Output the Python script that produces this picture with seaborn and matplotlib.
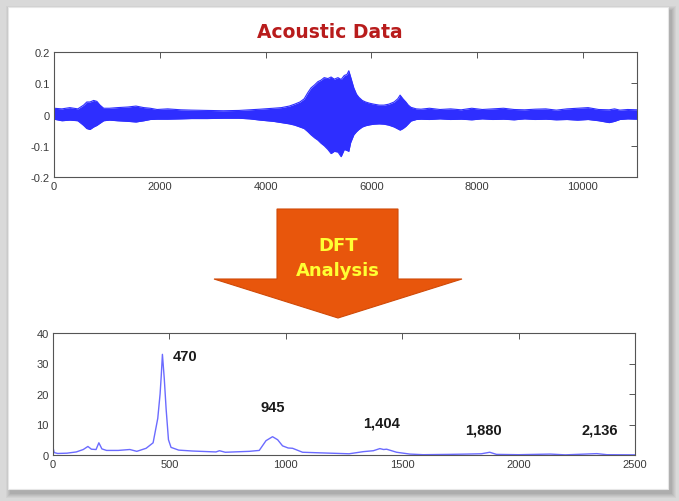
import numpy as np
import pandas as pd
import seaborn as sns
import matplotlib
matplotlib.use("Agg")
import matplotlib.pyplot as plt
from matplotlib.patches import Rectangle, Polygon

# ---------------- data ----------------
wave_x = [0, 150, 300, 450, 560, 620, 680, 750, 810, 870, 940, 1050, 1200, 1400, 1550, 1700,
          1820, 1950, 2150, 2400, 2600, 2900, 3200, 3500, 3700, 3900, 4150, 4300, 4450, 4550,
          4650, 4730, 4800, 4860, 4930, 4990, 5050, 5110, 5180, 5240, 5300, 5370, 5430, 5490,
          5540, 5575, 5610, 5670, 5720, 5765, 5830, 5892, 5970, 6050, 6150, 6240, 6330, 6432,
          6500, 6545, 6600, 6654, 6700, 6750, 6850, 6940, 7100, 7300, 7500, 7700, 7900, 8100,
          8300, 8500, 8700, 8900, 9100, 9300, 9500, 9700, 9900, 10100, 10300, 10500, 10600,
          10700, 10850, 11025]
wave_upper = [0.02, 0.018, 0.022, 0.018, 0.03, 0.04, 0.04, 0.045, 0.042, 0.03, 0.02, 0.02, 0.022,
              0.024, 0.027, 0.022, 0.02, 0.016, 0.018, 0.015, 0.014, 0.013, 0.012, 0.013, 0.015,
              0.017, 0.02, 0.022, 0.027, 0.033, 0.04, 0.05, 0.07, 0.085, 0.095, 0.105, 0.11,
              0.118, 0.115, 0.12, 0.113, 0.118, 0.112, 0.125, 0.128, 0.14, 0.12, 0.085, 0.065,
              0.055, 0.045, 0.04, 0.036, 0.033, 0.03, 0.03, 0.033, 0.04, 0.05, 0.062, 0.05, 0.04,
              0.03, 0.023, 0.018, 0.017, 0.02, 0.016, 0.018, 0.015, 0.02, 0.016, 0.018, 0.02,
              0.016, 0.015, 0.017, 0.018, 0.014, 0.018, 0.02, 0.022, 0.016, 0.015, 0.018, 0.014,
              0.016, 0.015]
wave_lower = [-0.015, -0.02, -0.018, -0.02, -0.035, -0.045, -0.048, -0.04, -0.035, -0.028, -0.02,
              -0.018, -0.02, -0.022, -0.024, -0.02, -0.016, -0.015, -0.015, -0.014, -0.013,
              -0.013, -0.012, -0.012, -0.014, -0.018, -0.022, -0.026, -0.03, -0.034, -0.04,
              -0.045, -0.055, -0.065, -0.075, -0.082, -0.092, -0.1, -0.112, -0.125, -0.118,
              -0.12, -0.135, -0.112, -0.115, -0.118, -0.09, -0.065, -0.055, -0.048, -0.04,
              -0.036, -0.033, -0.031, -0.03, -0.031, -0.034, -0.04, -0.046, -0.05, -0.045,
              -0.038, -0.03, -0.021, -0.016, -0.015, -0.016, -0.014, -0.016, -0.015, -0.017,
              -0.014, -0.016, -0.015, -0.017, -0.014, -0.016, -0.015, -0.017, -0.016, -0.018,
              -0.016, -0.02, -0.026, -0.022, -0.016, -0.014, -0.015]

freq = [0, 5, 20, 60, 100, 130, 150, 165, 185, 197, 210, 230, 280, 330, 360, 400, 430, 450, 460,
        465, 470, 478, 486, 496, 507, 540, 600, 700, 715, 740, 843, 886, 915, 943, 965, 986,
        1010, 1029, 1072, 1150, 1272, 1333, 1376, 1404, 1420, 1433, 1476, 1533, 1590, 1700,
        1776, 1840, 1876, 1905, 2000, 2136, 2200, 2336, 2379, 2500]
mag = [2.5, 0.8, 0.5, 0.6, 1.0, 1.8, 2.8, 1.9, 1.8, 4.0, 2.0, 1.5, 1.5, 1.8, 1.2, 2.2, 4.0, 12.0,
       20, 26, 33, 25, 15, 5, 2.5, 1.6, 1.3, 1.0, 1.4, 0.9, 1.2, 1.5, 4.7, 6.0, 5.0, 3.0, 2.3,
       2.2, 0.9, 0.7, 0.4, 1.1, 1.4, 2.1, 1.8, 1.9, 0.9, 0.3, 0.1, 0.2, 0.3, 0.4, 0.9, 0.2, 0.1,
       0.3, 0.05, 0.45, 0.1, 0.05]

peak_labels = ["470", "945", "1,404", "1,880", "2,136"]
peak_label_x = [566, 943, 1410, 1847, 2350]
peak_label_y = [32.5, 15.6, 10.7, 8.5, 8.5]

top_xticks = [0, 2000, 4000, 6000, 8000, 10000]
top_yticks = [-0.2, -0.1, 0, 0.1, 0.2]
top_yticklabels = ["-0.2", "-0.1", "0", "0.1", "0.2"]
bot_xticks = [0, 500, 1000, 1500, 2000, 2500]
bot_yticks = [0, 10, 20, 30, 40]

title_text = "Acoustic Data"
arrow_text = ["DFT", "Analysis"]

# ---------------- figure ----------------
sns.set_theme(style="white")
plt.rcParams['font.family'] = ['Liberation Sans', 'DejaVu Sans']

W, H = 679, 502
fig = plt.figure(figsize=(W / 100, H / 100), dpi=100)
fig.patch.set_facecolor("#d9d9d9")


def px_rect(x0, y0, x1, y1, **kw):
    return Rectangle((x0 / W, 1 - y1 / H), (x1 - x0) / W, (y1 - y0) / H,
                     transform=fig.transFigure, **kw)


# shadow of the panel
for i, a in enumerate([0.06, 0.06, 0.07, 0.08, 0.1]):
    d = 5 - i
    fig.add_artist(px_rect(8 - d + 3, 8 - d + 4, 668 + d + 3, 490 + d + 4,
                           facecolor="#555555", alpha=a, edgecolor="none", zorder=-3))
fig.add_artist(px_rect(8, 8, 668, 490, facecolor="white", edgecolor="#e6e6e6",
                       linewidth=0.8, zorder=-2))


def style_axes(ax):
    for s in ax.spines.values():
        s.set_color("#555555")
        s.set_linewidth(0.8)
        s.set_visible(True)
    ax.tick_params(direction="in", length=4, width=0.7, color="#555555",
                   top=True, right=True, labelsize=8, labelcolor="#3a3a3a", pad=3)
    ax.set_xlabel("")
    ax.set_ylabel("")
    ax.set_facecolor("white")


# top axes: waveform
ax1 = fig.add_axes([54 / W, 1 - 178 / H, (637 - 54) / W, (178 - 53) / H])
ax1.fill_between(wave_x, wave_lower, wave_upper, color="#2e2eff", linewidth=0)
sns.lineplot(x=wave_x, y=wave_upper, ax=ax1, color="#2e2eff", linewidth=0.8)
sns.lineplot(x=wave_x, y=wave_lower, ax=ax1, color="#2e2eff", linewidth=0.8)
ax1.set_xlim(0, 11025)
ax1.set_ylim(-0.2, 0.2)
ax1.set_xticks(top_xticks)
ax1.set_xticklabels([str(t) for t in top_xticks])
ax1.set_yticks(top_yticks)
ax1.set_yticklabels(top_yticklabels)
style_axes(ax1)

# bottom axes: spectrum
ax2 = fig.add_axes([53 / W, 1 - 456 / H, (635 - 53) / W, (456 - 334) / H])
sns.lineplot(x=freq, y=mag, ax=ax2, color="#6b6bff", linewidth=1.0)
ax2.set_xlim(0, 2500)
ax2.set_ylim(0, 40)
ax2.set_xticks(bot_xticks)
ax2.set_xticklabels([str(t) for t in bot_xticks])
ax2.set_yticks(bot_yticks)
ax2.set_yticklabels([str(t) for t in bot_yticks])
style_axes(ax2)
for lab, lx, ly in zip(peak_labels, peak_label_x, peak_label_y):
    ax2.text(lx, ly, lab, ha="center", va="center", fontsize=10.5, fontweight="bold",
             color="#1a1a1a")

# title
fig.text(330 / W, 1 - 33 / H, title_text, ha="center", va="center", fontsize=13.5,
         fontweight="bold", color="#b81c1c", family=["DejaVu Sans"])

# arrow
pts = [(277, 210), (398, 210), (398, 280), (462, 280), (338, 319), (214, 280), (277, 280)]
fig.add_artist(Polygon([(x / W, 1 - y / H) for x, y in pts], closed=True,
                       transform=fig.transFigure, facecolor="#e8560c",
                       edgecolor="#d04a08", linewidth=0.8, zorder=2))
fig.text(338 / W, 1 - 246 / H, arrow_text[0], ha="center", va="center", fontsize=13,
         fontweight="bold", color="#ffff33", family=["DejaVu Sans"], zorder=3)
fig.text(338 / W, 1 - 271 / H, arrow_text[1], ha="center", va="center", fontsize=13,
         fontweight="bold", color="#ffff33", family=["DejaVu Sans"], zorder=3)

fig.savefig("out.png", dpi=100, facecolor=fig.get_facecolor())
